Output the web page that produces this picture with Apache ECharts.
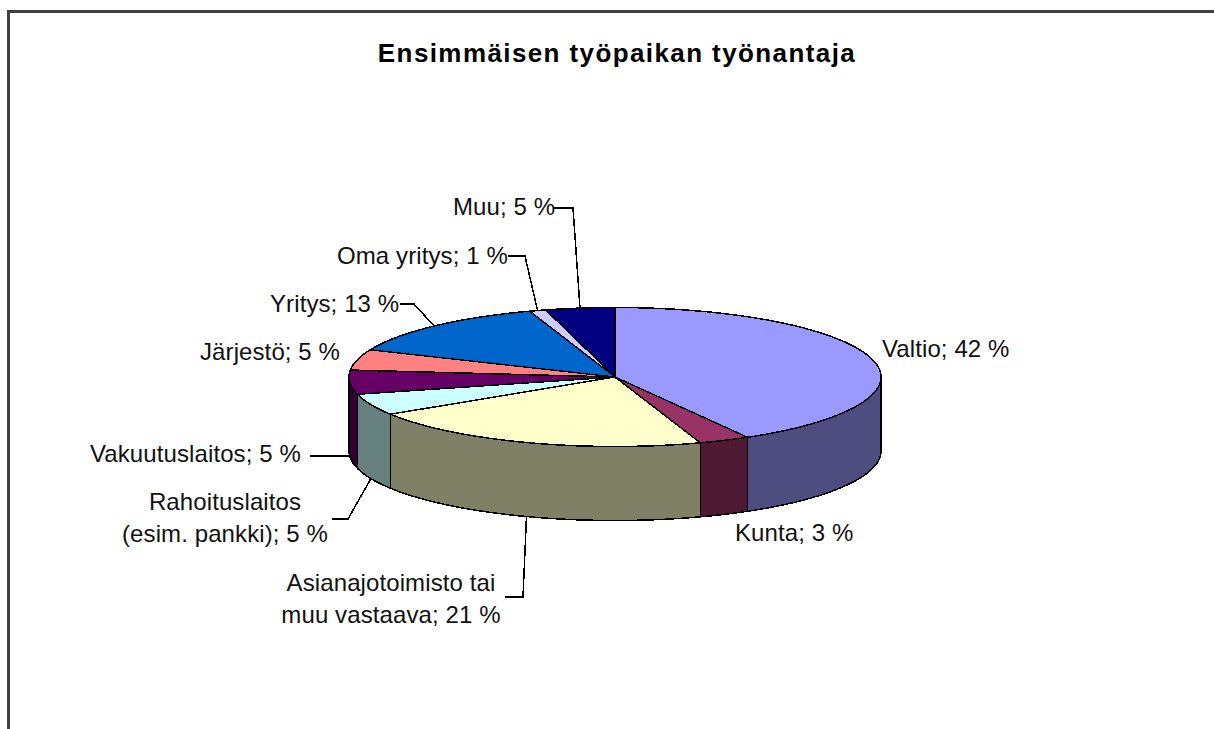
<!DOCTYPE html>
<html>
<head>
<meta charset="utf-8">
<style>
html,body{margin:0;padding:0;background:#fff;overflow:hidden}
#c{width:1214px;height:729px}
svg path{shape-rendering:crispEdges}
svg text{letter-spacing:.1px}
svg text[style*="bold"]{letter-spacing:1.4px}
</style>
<script src="https://cdn.jsdelivr.net/npm/echarts@6/dist/echarts.min.js"></script>
</head>
<body>
<div id="c"></div>
<script>
const titleText = 'Ensimmäisen työpaikan työnantaja';
const categories = ['Valtio','Kunta','Asianajotoimisto tai\nmuu vastaava','Rahoituslaitos\n(esim. pankki)','Vakuutuslaitos','Järjestö','Yritys','Oma yritys','Muu'];
const values = [41.7,3.1,21.2,5,5.6,4.8,13.4,1,4.2];
const shownPercents = [42,3,21,5,5,5,13,1,5];
const topColors = ['#9999FF','#993366','#FFFFCC','#CCFFFF','#660066','#FF8080','#0066CC','#CCCCFF','#000080'];
const wallColors = ['#4D4D80','#4D1933','#808066','#668080','#330033','#804040','#003366','#666680','#000040'];

// Pie projection (pixels): centre, radii, wall depth
const cx = 615, cy = 377, rx = 266, ry = 69.5, depth = 74;
// Label layout: text anchor, alignment, elbow points of the leader line
const labelLayout = [
  {x:882, y:348, align:'left'},
  {x:735, y:532, align:'left'},
  {x:391, y:598, align:'center', elbow:[[505,597],[523,597]], onWall:true},
  {x:225, y:517, align:'center', elbow:[[332,519],[348,519]], onWall:true},
  {x:90,  y:453, align:'left', elbow:[[310,456]], end:[352,456]},
  {x:200, y:351, align:'left'},
  {x:270, y:303, align:'left', elbow:[[400,304],[414,304]]},
  {x:337, y:255, align:'left', elbow:[[508,256],[525,256]]},
  {x:453, y:206, align:'left', elbow:[[553,208],[573,208]]}
];

const total = values.reduce((a,b)=>a+b,0);
const cum = [0];
values.forEach(v=>cum.push(cum[cum.length-1]+v));
function pt(frac, dy){
  const t = frac*2*Math.PI;
  return [cx+rx*Math.sin(t), cy-ry*Math.cos(t)+(dy||0)];
}
function arc(a,b,dy){
  const n = Math.max(2,Math.ceil(Math.abs(b-a)*400));
  const out=[];
  for(let i=0;i<=n;i++) out.push(pt(a+(b-a)*i/n,dy));
  return out;
}
const chartData = values.map((v,i)=>[i,v]);

const chart = echarts.init(document.getElementById('c'),null,{renderer:'svg',width:1214,height:729});
chart.setOption({
  backgroundColor:'#fff',
  animation:false,
  tooltip:{show:false},
  title:{text:titleText,left:612,top:35,textAlign:'center',
    textStyle:{fontFamily:'Liberation Sans',fontSize:26,fontWeight:'bold',color:'#000'}},
  graphic:[
    {type:'line',shape:{x1:7,y1:11,x2:1214,y2:11},style:{stroke:'#404040',lineWidth:3}},
    {type:'line',shape:{x1:8.5,y1:11,x2:8.5,y2:729},style:{stroke:'#404040',lineWidth:3}}
  ],
  series:[
    {type:'custom',coordinateSystem:'none',data:chartData,silent:true,z:2,
     renderItem(p,api){
      const i=api.value(0);
      const a=Math.max(cum[i]/total,0.25), b=Math.min(cum[i+1]/total,0.75);
      if(b<=a) return null;
      const pts=arc(a,b,0).concat(arc(b,a,depth));
      return {type:'polygon',shape:{points:pts},style:{fill:wallColors[i],stroke:'#000',lineWidth:1.5}};
     }},
    {type:'custom',coordinateSystem:'none',data:chartData,silent:true,z:3,
     renderItem(p,api){
      const i=api.value(0);
      const pts=[[cx,cy]].concat(arc(cum[i]/total,cum[i+1]/total,0));
      return {type:'polygon',shape:{points:pts},style:{fill:topColors[i],stroke:'#000',lineWidth:1.5}};
     }},
    {type:'custom',coordinateSystem:'none',data:chartData,silent:true,z:4,
     renderItem(p,api){
      const i=api.value(0), L=labelLayout[i];
      const children=[];
      if(L.elbow){
        const mid=(cum[i]+cum[i+1])/2/total;
        const end=L.end||pt(mid,L.onWall?depth:0);
        children.push({type:'polyline',shape:{points:L.elbow.concat([end])},
          style:{fill:'none',stroke:'#000',lineWidth:1.5}});
      }
      const name=categories[i]+'; '+shownPercents[i]+' %';
      children.push({type:'text',style:{x:L.x,y:L.y,text:name,align:L.align,verticalAlign:'middle',
        fill:'#111',font:'24px "Liberation Sans"',lineHeight:32}});
      return {type:'group',children};
     }}
  ]
});
</script>
</body>
</html>
